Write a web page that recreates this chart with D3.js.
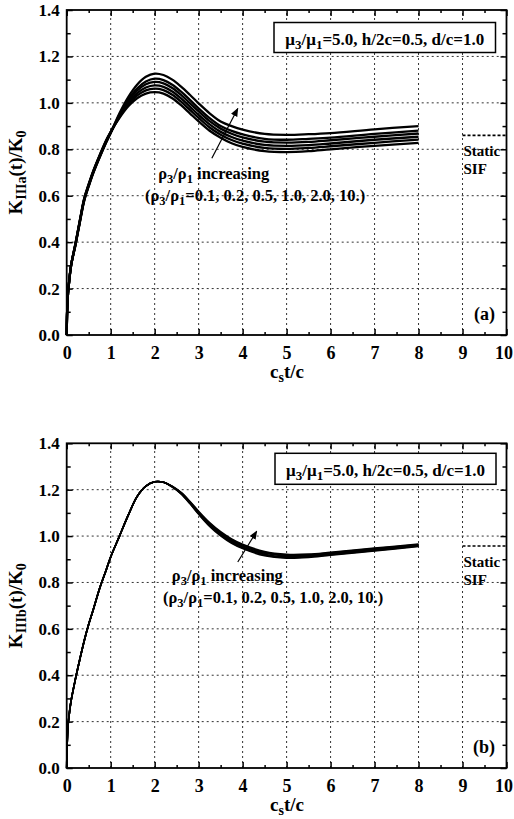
<!DOCTYPE html>
<html><head><meta charset="utf-8">
<script src="https://cdn.jsdelivr.net/npm/d3@7/dist/d3.min.js"></script>
<style>
body{margin:0;background:#fff}
svg{display:block}
text{font-family:"Liberation Serif","Times New Roman",serif;font-weight:bold;fill:#000}
</style>
</head><body><svg id="c" width="514" height="819"></svg>
<script>
// ---------- data ----------
const tValues = [0, 0.01, 0.03, 0.05, 0.1, 0.2, 0.3, 0.4, 0.5, 0.6, 0.75, 0.9, 1.0, 1.2, 1.4, 1.6, 1.8, 2.0, 2.2, 2.4, 2.6, 2.8, 3.0, 3.25, 3.5, 3.75, 4.0, 4.5, 5.0, 5.5, 6.0, 7.0, 8.0];
const rhoRatios = ["0.1", "0.2", "0.5", "1.0", "2.0", "10."];

// Panel (a): K_IIIa(t)/K0
const Ka_rho01 = [0, 0.10, 0.18, 0.22, 0.30, 0.395, 0.495, 0.59, 0.65, 0.705, 0.775, 0.84, 0.875, 0.935, 0.985, 1.02, 1.04, 1.046, 1.04, 1.02, 0.99, 0.955, 0.92, 0.88, 0.85, 0.826, 0.81, 0.792, 0.788, 0.792, 0.80, 0.815, 0.828];
const Ka_rho02 = [0, 0.10, 0.18, 0.22, 0.30, 0.394, 0.493, 0.588, 0.648, 0.703, 0.773, 0.838, 0.874, 0.939, 0.993, 1.031, 1.054, 1.061, 1.055, 1.035, 1.005, 0.970, 0.935, 0.894, 0.863, 0.840, 0.824, 0.806, 0.802, 0.806, 0.813, 0.828, 0.842];
const Ka_rho05 = [0, 0.10, 0.18, 0.22, 0.30, 0.392, 0.492, 0.586, 0.646, 0.701, 0.771, 0.836, 0.873, 0.942, 0.999, 1.041, 1.066, 1.075, 1.069, 1.049, 1.019, 0.984, 0.948, 0.907, 0.875, 0.853, 0.837, 0.819, 0.815, 0.818, 0.825, 0.841, 0.854];
const Ka_rho1  = [0, 0.10, 0.18, 0.22, 0.30, 0.391, 0.490, 0.584, 0.644, 0.699, 0.769, 0.834, 0.872, 0.946, 1.007, 1.052, 1.080, 1.090, 1.084, 1.064, 1.034, 0.999, 0.963, 0.921, 0.889, 0.867, 0.851, 0.833, 0.829, 0.832, 0.839, 0.854, 0.868];
const Ka_rho2  = [0, 0.10, 0.18, 0.22, 0.30, 0.389, 0.488, 0.582, 0.642, 0.697, 0.767, 0.832, 0.871, 0.949, 1.014, 1.062, 1.092, 1.104, 1.098, 1.078, 1.048, 1.013, 0.976, 0.934, 0.900, 0.879, 0.864, 0.845, 0.841, 0.845, 0.850, 0.866, 0.880];
const Ka_rho10 = [0, 0.10, 0.18, 0.22, 0.30, 0.388, 0.486, 0.58, 0.64, 0.695, 0.765, 0.83, 0.87, 0.955, 1.025, 1.078, 1.112, 1.126, 1.12, 1.10, 1.07, 1.035, 0.998, 0.955, 0.92, 0.90, 0.885, 0.866, 0.862, 0.865, 0.87, 0.886, 0.90];

// Panel (b): K_IIIb(t)/K0
const Kb_rho01 = [0, 0.10, 0.18, 0.22, 0.29, 0.385, 0.47, 0.55, 0.62, 0.68, 0.775, 0.855, 0.91, 1.0, 1.09, 1.17, 1.215, 1.234, 1.232, 1.211, 1.182, 1.140, 1.094, 1.042, 1.001, 0.969, 0.946, 0.915, 0.905, 0.908, 0.918, 0.936, 0.955];
const Kb_rho02 = [0, 0.10, 0.18, 0.22, 0.29, 0.385, 0.47, 0.55, 0.62, 0.68, 0.775, 0.855, 0.91, 1.0, 1.09, 1.17, 1.215, 1.234, 1.232, 1.212, 1.183, 1.142, 1.096, 1.045, 1.005, 0.972, 0.949, 0.919, 0.908, 0.911, 0.920, 0.938, 0.957];
const Kb_rho05 = [0, 0.10, 0.18, 0.22, 0.29, 0.385, 0.47, 0.55, 0.62, 0.68, 0.775, 0.855, 0.91, 1.0, 1.09, 1.17, 1.215, 1.234, 1.232, 1.213, 1.184, 1.144, 1.099, 1.048, 1.008, 0.976, 0.953, 0.922, 0.911, 0.914, 0.923, 0.941, 0.959];
const Kb_rho1  = [0, 0.10, 0.18, 0.22, 0.29, 0.385, 0.47, 0.55, 0.62, 0.68, 0.775, 0.855, 0.91, 1.0, 1.09, 1.17, 1.215, 1.234, 1.232, 1.213, 1.186, 1.146, 1.101, 1.052, 1.012, 0.980, 0.957, 0.926, 0.915, 0.916, 0.925, 0.943, 0.961];
const Kb_rho2  = [0, 0.10, 0.18, 0.22, 0.29, 0.385, 0.47, 0.55, 0.62, 0.68, 0.775, 0.855, 0.91, 1.0, 1.09, 1.17, 1.215, 1.234, 1.232, 1.214, 1.187, 1.148, 1.104, 1.055, 1.015, 0.984, 0.961, 0.929, 0.918, 0.919, 0.928, 0.946, 0.963];
const Kb_rho10 = [0, 0.10, 0.18, 0.22, 0.29, 0.385, 0.47, 0.55, 0.62, 0.68, 0.775, 0.855, 0.91, 1.0, 1.09, 1.17, 1.215, 1.234, 1.232, 1.215, 1.188, 1.150, 1.107, 1.058, 1.019, 0.988, 0.965, 0.933, 0.921, 0.922, 0.930, 0.948, 0.966];

const staticSIF_a = 0.86;
const staticSIF_b = 0.957;

const xTickValues = [0, 1, 2, 3, 4, 5, 6, 7, 8, 9, 10];
const xMinorValues = [0.5, 1.5, 2.5, 3.5, 4.5, 5.5, 6.5, 7.5, 8.5, 9.5];
const yTickValues = [0, 0.2, 0.4, 0.6, 0.8, 1.0, 1.2, 1.4];
const yMinorValues = [0.1, 0.3, 0.5, 0.7, 0.9, 1.1, 1.3];
const xGridValues = [1, 2, 3, 4, 5, 6, 7, 8, 9];
const yGridValues = [0.2, 0.4, 0.6, 0.8, 1.0, 1.2];

// ---------- drawing ----------
const svg = d3.select("#c");
const defs = svg.append("defs");
defs.append("marker").attr("id", "arr").attr("markerUnits", "userSpaceOnUse")
  .attr("viewBox", "0 0 10 8").attr("markerWidth", 9).attr("markerHeight", 7)
  .attr("refX", 9).attr("refY", 4).attr("orient", "auto")
  .append("path").attr("d", "M0,0 L10,4 L0,8 Z").attr("fill", "#000");

function rich(g, x, y, parts, size, subSize, anchor) {
  const t = g.append("text").attr("x", x).attr("y", y).attr("font-size", size)
    .attr("text-anchor", anchor || "start");
  let wasSub = false;
  parts.forEach(p => {
    const ts = t.append("tspan").text(p[0]);
    if (p[1]) {
      ts.attr("font-size", subSize).attr("dy", wasSub ? 0 : 4);
      wasSub = true;
    } else {
      if (wasSub) ts.attr("dy", -4);
      wasSub = false;
    }
  });
  return t;
}

function panel(o) {
  const x = d3.scaleLinear().domain([0, 10]).range([66.7, 506.5]);
  const y = d3.scaleLinear().domain([0, 1.4]).range([o.bottom, o.top]);
  const g = svg.append("g");

  // grid
  g.append("g").selectAll("line").data(xGridValues).join("line")
    .attr("x1", d => x(d)).attr("x2", d => x(d)).attr("y1", y(0)).attr("y2", y(1.4))
    .attr("stroke", "#333").attr("stroke-width", 1).attr("stroke-dasharray", "2,3");
  g.append("g").selectAll("line").data(yGridValues).join("line")
    .attr("x1", x(0)).attr("x2", x(10)).attr("y1", d => y(d)).attr("y2", d => y(d))
    .attr("stroke", "#333").attr("stroke-width", 1).attr("stroke-dasharray", "2,3");

  // axes with inward ticks
  const fmt = d3.format(".1f");
  const ax = (gen, tr) => {
    const a = g.append("g").attr("transform", tr).call(gen);
    a.attr("font-family", null).attr("font-size", null);
    a.select(".domain").remove();
    a.selectAll("line").attr("stroke", "#000").attr("stroke-width", 1.5);
    return a;
  };
  const bx = ax(d3.axisBottom(x).tickValues(xTickValues).tickSize(-6).tickPadding(11).tickFormat(d3.format("d")), `translate(0,${y(0)})`);
  bx.selectAll("text").attr("font-size", 18).attr("fill", "#000")
    .attr("dx", d => d === 10 ? -3 : 0);
  ax(d3.axisBottom(x).tickValues(xMinorValues).tickSize(-3).tickFormat(""), `translate(0,${y(0)})`);
  ax(d3.axisTop(x).tickValues(xTickValues).tickSize(-6).tickFormat(""), `translate(0,${y(1.4)})`);
  ax(d3.axisTop(x).tickValues(xMinorValues).tickSize(-3).tickFormat(""), `translate(0,${y(1.4)})`);
  const ly = ax(d3.axisLeft(y).tickValues(yTickValues).tickSize(-6).tickPadding(7).tickFormat(fmt), `translate(${x(0)},0)`);
  ly.selectAll("text").attr("font-size", 17).attr("fill", "#000");
  ax(d3.axisLeft(y).tickValues(yMinorValues).tickSize(-4).tickFormat(""), `translate(${x(0)},0)`);
  ax(d3.axisRight(y).tickValues(yTickValues).tickSize(-6).tickFormat(""), `translate(${x(10)},0)`);
  ax(d3.axisRight(y).tickValues(yMinorValues).tickSize(-4).tickFormat(""), `translate(${x(10)},0)`);

  // curves
  const line = d3.line().x((d, i) => x(tValues[i])).y(d => y(d)).curve(d3.curveCatmullRom.alpha(0.5));
  g.append("g").selectAll("path").data(o.series).join("path")
    .attr("d", d => line(d)).attr("fill", "none").attr("stroke", "#000")
    .attr("stroke-width", o.lw).attr("stroke-linejoin", "round");

  // frame
  g.append("rect").attr("x", x(0)).attr("y", y(1.4)).attr("width", x(10) - x(0)).attr("height", y(0) - y(1.4))
    .attr("fill", "none").attr("stroke", "#000").attr("stroke-width", 1.8);

  // static SIF
  g.append("line").attr("x1", x(9)).attr("x2", x(10)).attr("y1", y(o.sif)).attr("y2", y(o.sif))
    .attr("stroke", "#000").attr("stroke-width", 1.6).attr("stroke-dasharray", "3,2");
  g.append("text").attr("x", x(9) + 1).attr("y", y(o.sif) + 21).attr("font-size", 15).text("Static");
  g.append("text").attr("x", x(9) + 1).attr("y", y(o.sif) + 39).attr("font-size", 15).text("SIF");

  // legend box
  g.append("rect").attr("x", o.box[0]).attr("y", o.box[1]).attr("width", o.box[2]).attr("height", o.box[3])
    .attr("fill", "#fff").attr("stroke", "#000").attr("stroke-width", 1.5);
  rich(g, o.box[0] + o.box[2] / 2, o.box[1] + o.box[3] - 8,
    [["μ"], ["3", 1], ["/μ"], ["1", 1], ["=5.0, h/2c=0.5, d/c=1.0"]], 17, 13, "middle");

  // annotation
  rich(g, x(o.ann1[0]), y(o.ann1[1]), [["ρ"], ["3", 1], ["/ρ"], ["1", 1], [" increasing"]], 16.5, 12.5);
  rich(g, x(o.ann2[0]), y(o.ann2[1]),
    [["(ρ"], ["3", 1], ["/ρ"], ["1", 1], ["=" + rhoRatios.join(", ") + ")"]], 16.5, 12.5);
  g.append("line").attr("x1", x(o.arrow[0])).attr("y1", y(o.arrow[1]))
    .attr("x2", x(o.arrow[2])).attr("y2", y(o.arrow[3]))
    .attr("stroke", "#000").attr("stroke-width", 1.2).attr("marker-end", "url(#arr)");

  // panel label
  g.append("text").attr("x", 495).attr("y", y(0) - 15).attr("text-anchor", "end").attr("font-size", 18).text(o.tag);

  // axis titles
  rich(g, 287, y(0) + 43, [["c"], ["s", 1], ["t/c"]], 19, 14, "middle");
  const yt = g.append("g").attr("transform", `translate(22,${(y(0) + y(1.4)) / 2}) rotate(-90)`);
  rich(yt, 0, 0, [["K"], [o.sub, 1], ["(t)/K"], ["0", 1]], 19, 14, "middle");
}

panel({
  top: 10, bottom: 335, lw: 2.3,
  series: [Ka_rho01, Ka_rho02, Ka_rho05, Ka_rho1, Ka_rho2, Ka_rho10],
  sif: staticSIF_a, box: [274, 22.5, 221.5, 30],
  ann1: [2.08, 0.672], ann2: [1.78, 0.577], arrow: [3.3, 0.761, 3.89, 0.976],
  tag: "(a)", sub: "IIIa"
});
panel({
  top: 443.3, bottom: 768, lw: 1.6,
  series: [Kb_rho01, Kb_rho02, Kb_rho05, Kb_rho1, Kb_rho2, Kb_rho10],
  sif: staticSIF_b, box: [275, 453.3, 221, 31],
  ann1: [2.39, 0.806], ann2: [2.19, 0.711], arrow: [3.89, 0.888, 4.32, 1.021],
  tag: "(b)", sub: "IIIb"
});
</script>
</body></html>
